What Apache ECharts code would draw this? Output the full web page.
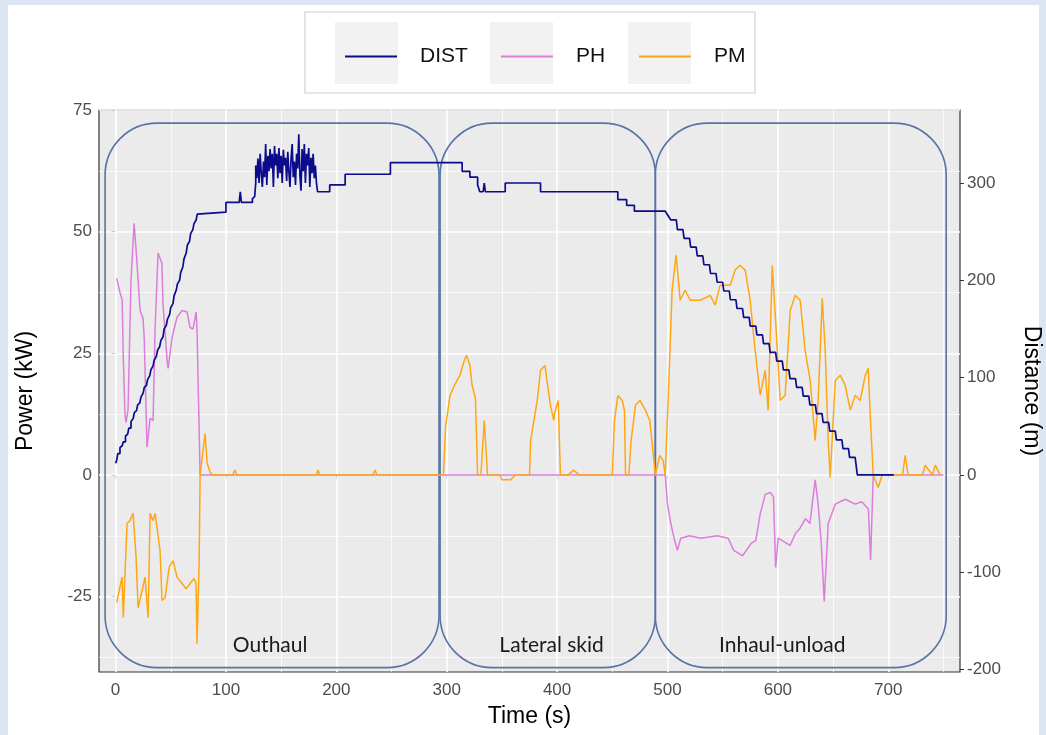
<!DOCTYPE html>
<html>
<head>
<meta charset="utf-8">
<script src="https://cdn.jsdelivr.net/npm/echarts@6/dist/echarts.min.js"></script>
<style>
  html, body { margin: 0; padding: 0; background: #dce6f2; }
  #chart { width: 1046px; height: 735px; }
</style>
</head>
<body>
<div id="chart"></div>
<script>
// Cable yarding cycle: carriage distance and power of the two drives over time

// Carriage distance from the tower (m), plotted on the right axis
const distPoints = [
  [0,12],[1,15],[2,15],[2,22],[4,22],[4,28],[6,30],[7,34],[9,34],[9,40],[11,42],[12,48],[14,48],[14,55],
  [16,58],[17,64],[19,66],[20,72],[22,74],[23,80],[25,84],[26,90],[28,92],[29,98],[31,102],[32,108],
  [34,112],[35,118],[37,122],[38,128],[40,132],[41,138],[43,142],[44,150],[46,154],[47,160],[49,165],
  [50,172],[52,176],[53,184],[55,190],[56,196],[58,200],[59,208],[61,214],[62,222],[64,228],[65,236],
  [67,240],[68,248],[70,252],[71,258],[73,262],[74,268],[75,270],
  [100,270],[100,280],[112,280],[113,291],[114,280],[124,280],[124,284],[126,286],[127,300],
  [127,318],[128,305],[129,325],[130,300],[131,330],[132,310],[133,296],[134,322],[135,306],[136,340],
  [137,298],[138,328],[139,312],[140,335],[141,315],[142,330],[143,296],[144,338],[145,318],[146,330],
  [147,305],[148,336],[149,310],[150,328],[151,300],[152,334],[153,318],[154,326],[155,302],[156,332],
  [157,312],[158,296],[159,325],[160,340],[161,306],[162,322],[163,298],[164,330],[165,315],[166,350],
  [167,308],[168,292],[169,335],[170,312],[171,340],[172,300],[173,330],[174,318],[175,336],[176,296],
  [177,326],[178,310],[179,330],[180,305],[181,318],[182,300],[183,291],
  [194,291],[194,298],[208,298],[208,309],[249,309],[249,321],
  [314,321],[314,312],[321,312],[321,306],[328,306],[328,298],[330,291],[333,291],[334,300],[335,291],
  [353,291],[353,300],[385,300],[385,291],[413,291],[413,291],[455,291],[455,283],[463,283],[463,277],
  [470,277],[470,271],[498,271],
  [503,262],[508,262],[509,252],[514,252],[515,243],[520,243],[521,234],[526,234],[527,225],[532,225],
  [533,216],[538,216],[539,207],[544,207],[545,198],[550,198],[551,189],[556,189],[557,180],[562,180],
  [563,171],[568,171],[569,162],[574,162],[575,153],[580,153],[581,144],[586,144],[587,135],[592,135],
  [593,126],[598,126],[599,117],[604,117],[605,108],[610,108],[611,99],[616,99],[617,90],[622,90],
  [623,81],[628,81],[629,72],[634,72],[635,63],[640,63],[641,54],[646,54],[647,45],[652,45],[653,36],
  [658,36],[659,27],[664,27],[665,18],[670,18],[671,9],[672,0],[705,0]
];

// Hydraulic drive power (kW), left axis
const phPoints = [
  [1,40.4],[4,37.5],[6,36],[7,24],[8.6,12.2],[9.5,10.8],[11.3,13.3],[14,40],[16.8,51.7],[19,45],
  [22.2,33.8],[24.9,32.2],[26,28],[28.5,5.7],[31.3,11.6],[34,11.2],[35.8,30],[38.5,45.6],[42,43.5],
  [43,35],[46.7,23.6],[47.6,21.9],[51.2,28.3],[55.7,32.4],[60.3,33.8],[64.8,33.5],[67.5,30.3],
  [70.2,30],[73,33.5],[73.8,30],[76.6,0],
  [498,0],[500,-6],[503,-10],[506,-13],[509,-15.5],[512,-13],[520,-12.5],[530,-13],[545,-12.5],
  [555,-13],[560,-15.5],[568,-16.6],[576,-14],[580,-13.5],[584,-8],[588.6,-4],[593.2,-3.6],
  [596,-4.5],[598,-19],[600.3,-13],[604,-13.5],[611,-14.5],[616,-12],[620,-11],[625,-9],[629,-10],
  [633.8,-1],[636.5,-6],[639.3,-14],[642,-26],[645.6,-10],[652,-6],[661,-5],[670,-6],[676,-5.5],
  [682,-7],[684,-17.5],[686.4,0],[750,0]
];

// Electric drive power (kW), left axis
const pmPoints = [
  [1,-26.2],[5.9,-21],[7,-29.3],[10.4,-10],[13,-9.4],[15.9,-7.9],[18.6,-17],[20.4,-27.3],[24,-23.8],
  [26.7,-21],[29.5,-29.3],[31.3,-7.9],[34,-9.4],[35.8,-7.9],[37.6,-7.9],[40.3,-15.5],[42.1,-25.8],
  [44.9,-25.2],[48.5,-19],[52.1,-17.6],[55.7,-21],[60.3,-22.3],[63.9,-23.4],[67.5,-22.3],[71.1,-21.3],
  [72.9,-22.3],[73.8,-34.7],[75.7,-18.2],[76.6,0],[78.4,0],[81.1,8.5],[83,2.4],[85.7,0.5],[88,0],
  [106,0],[108,1],[110,0],[182,0],[183.5,1],[185,0],[233,0],[235,1],[237,0],
  [297,0],[299,10],[303,16.3],[307,18.4],[312,20.5],[316,23.6],[318,24.6],[321,22.5],[323,18.4],
  [326,15.7],[328,0],[331,0],[334,11.2],[337,0],[348,0],[350,-1],[358,-1],[362,0],[375,0],[376,7],
  [382,15.3],[385,21.5],[389,22.5],[392,17.4],[394,14.3],[397,11.2],[398,13],[401,15.3],[403,0],
  [410,0],[415,1],[420,0],[434,0],[440,0],[450,0],[452,11.2],[455,16.3],[459,15.3],[461,13.3],
  [462,0],[465,0],[467,7],[471,14.3],[475,15.3],[480,13.3],[484,11.2],[489,0],[493,4],[496,3],
  [497.9,0],
  [500.6,15.3],[504.2,38],[507.8,45.2],[511.5,35.9],[516,38],[520.6,35.9],[529.6,35.9],[538.7,36.9],
  [543.2,34.9],[547.7,39],[556.8,39],[561.3,42.1],[565.8,43.1],[570.4,42.1],[574.9,35.9],[579.4,25.6],
  [584,16.4],[588.5,21.5],[591.2,13.3],[594.9,43.1],[598.5,29.7],[602.1,15.3],[606.6,16.4],
  [611.2,33.8],[615.7,36.9],[620.2,35.9],[624.7,25.6],[629.3,19.4],[633.8,7.1],[636.5,15.3],
  [640.2,36.3],[642.9,25.6],[645.6,7.1],[647.4,-0.5],[652,19.4],[656.5,20.5],[661,18.4],[665.6,13.3],
  [670.1,16.4],[674.6,15.3],[679.2,20.5],[681.9,21.9],[683.7,12.2],[686.4,0],[690.9,-2.6],[694.5,0],
  [713,0],[715.3,4],[718,0],[731,0],[733.5,2],[740,0],[742.5,2],[747,0]
];

// Work phases of the cycle: name, start/end time (s), label time (s)
const phaseNames = ['Outhaul', 'Lateral skid', 'Inhaul-unload'];
const phaseStart = [-9.5, 294, 489];
const phaseEnd = [293, 489, 752.5];
const phaseLabelTime = [140, 395, 604];
const phaseTop = 72.3;      // kW
const phaseBottom = -39.6;  // kW
const phaseLabelLevel = -35; // kW

// Axis ticks
const timeTicks = [0, 100, 200, 300, 400, 500, 600, 700];
const powerTicks = [-25, 0, 25, 50, 75];
const distTicks = [-200, -100, 0, 100, 200, 300];
const timeGridMinor = [50, 150, 250, 350, 450, 550, 650, 750];
const powerGridMinor = [-37.5, -12.5, 12.5, 37.5, 62.5];

const COLORS = { DIST: '#0b0b8c', PH: '#dc7ddc', PM: '#ffa614' };
const AXIS_FONT = '"Liberation Sans", Arial, sans-serif';

const chart = echarts.init(document.getElementById('chart'), null, { renderer: 'canvas' });

const gridLines = [];
timeTicks.forEach(v => gridLines.push({ xAxis: v, lineStyle: { width: 1.6 } }));
timeGridMinor.forEach(v => gridLines.push({ xAxis: v, lineStyle: { width: 0.7 } }));
powerTicks.forEach(v => gridLines.push({ yAxis: v, lineStyle: { width: 1.6 } }));
powerGridMinor.forEach(v => gridLines.push({ yAxis: v, lineStyle: { width: 0.7 } }));

const phaseData = phaseNames.map((n, i) => [phaseStart[i], phaseEnd[i], phaseBottom, phaseTop, phaseLabelTime[i], phaseLabelLevel]);

function legendFor(name, left) {
  return {
    data: [name], left: left, top: 41, icon: 'rect', itemWidth: 52, itemHeight: 2,
    selectedMode: false,
    textStyle: { fontFamily: AXIS_FONT, fontSize: 21, color: '#111', padding: [0, 0, 0, 18] }
  };
}

const option = {
  animation: false,
  backgroundColor: 'transparent',
  graphic: [
    { type: 'rect', z: -10, shape: { x: 8, y: 5, width: 1031, height: 730 }, style: { fill: '#ffffff' } },
    { type: 'rect', z: -9, shape: { x: 305, y: 12, width: 450, height: 81 }, style: { fill: '#ffffff', stroke: '#d0d0d0', lineWidth: 1.2 } },
    { type: 'rect', z: -8, shape: { x: 335, y: 22, width: 63, height: 62 }, style: { fill: '#f2f2f2' } },
    { type: 'rect', z: -8, shape: { x: 490, y: 22, width: 63, height: 62 }, style: { fill: '#f2f2f2' } },
    { type: 'rect', z: -8, shape: { x: 628, y: 22, width: 63, height: 62 }, style: { fill: '#f2f2f2' } }
  ],
  legend: [legendFor('DIST', 340), legendFor('PH', 496), legendFor('PM', 634)],
  grid: {
    left: 99, right: 86, top: 110, bottom: 63,
    outerBoundsMode: 'none', containLabel: false,
    show: true, backgroundColor: '#ebebeb', borderColor: '#333333', borderWidth: 1.2
  },
  xAxis: {
    type: 'value', min: -15, max: 765,
    name: 'Time (s)', nameLocation: 'middle', nameGap: 33,
    nameTextStyle: { fontFamily: AXIS_FONT, fontSize: 23, color: '#000' },
    axisLine: { show: false },
    axisTick: { show: true, length: 4, customValues: timeTicks, lineStyle: { color: '#333' } },
    axisLabel: { customValues: timeTicks, fontFamily: AXIS_FONT, fontSize: 17, color: '#4d4d4d', margin: 10 },
    splitLine: { show: false }
  },
  yAxis: [
    {
      type: 'value', position: 'left', min: -40.5, max: 75,
      name: 'Power (kW)', nameLocation: 'middle', nameGap: 62,
      nameTextStyle: { fontFamily: AXIS_FONT, fontSize: 23, color: '#000' },
      axisLine: { show: false },
      axisTick: { show: true, length: 4, customValues: powerTicks, lineStyle: { color: '#333' } },
      axisLabel: { customValues: powerTicks, fontFamily: AXIS_FONT, fontSize: 17, color: '#4d4d4d', margin: 7 },
      splitLine: { show: false }
    },
    {
      type: 'value', position: 'right', min: -202.5, max: 375,
      name: 'Distance (m)', nameLocation: 'middle', nameGap: 60, nameRotate: -90,
      nameTextStyle: { fontFamily: AXIS_FONT, fontSize: 23, color: '#000' },
      axisLine: { show: false },
      axisTick: { show: true, length: 4, customValues: distTicks, lineStyle: { color: '#333' } },
      axisLabel: { customValues: distTicks, fontFamily: AXIS_FONT, fontSize: 17, color: '#4d4d4d', margin: 7 },
      splitLine: { show: false }
    }
  ],
  series: [
    {
      name: 'grid', type: 'line', data: [], z: 1, silent: true,
      markLine: {
        silent: true, symbol: 'none', z: 1, animation: false,
        label: { show: false },
        lineStyle: { color: '#ffffff', type: 'solid' },
        emphasis: { disabled: true },
        data: gridLines
      }
    },
    {
      name: 'phases', type: 'custom', z: 5, silent: true, clip: false,
      encode: { x: [0, 1, 4], y: [2, 3, 5] },
      data: phaseData,
      renderItem: function (params, api) {
        const i = params.dataIndex;
        const tl = api.coord([api.value(0), api.value(3)]);
        const br = api.coord([api.value(1), api.value(2)]);
        const lp = api.coord([api.value(4), api.value(5)]);
        return {
          type: 'group',
          children: [
            { type: 'rect', shape: { x: tl[0], y: tl[1], width: br[0] - tl[0], height: br[1] - tl[1], r: 52 },
              style: { fill: 'none', stroke: '#5874a4', lineWidth: 1.6 } },
            { type: 'text', style: { text: phaseNames[i], x: lp[0], y: lp[1], align: 'center', verticalAlign: 'middle',
              font: '21px Lato', fill: '#1a1a1a' } }
          ]
        };
      }
    },
    {
      name: 'PH', type: 'line', yAxisIndex: 0, data: phPoints, showSymbol: false, z: 10,
      lineStyle: { color: COLORS.PH, width: 1.5 }, itemStyle: { color: COLORS.PH }
    },
    {
      name: 'PM', type: 'line', yAxisIndex: 0, data: pmPoints, showSymbol: false, z: 11,
      lineStyle: { color: COLORS.PM, width: 1.5 }, itemStyle: { color: COLORS.PM }
    },
    {
      name: 'DIST', type: 'line', yAxisIndex: 1, data: distPoints, showSymbol: false, z: 12,
      lineStyle: { color: COLORS.DIST, width: 1.7 }, itemStyle: { color: COLORS.DIST }
    }
  ]
};

chart.setOption(option);
</script>
</body>
</html>
